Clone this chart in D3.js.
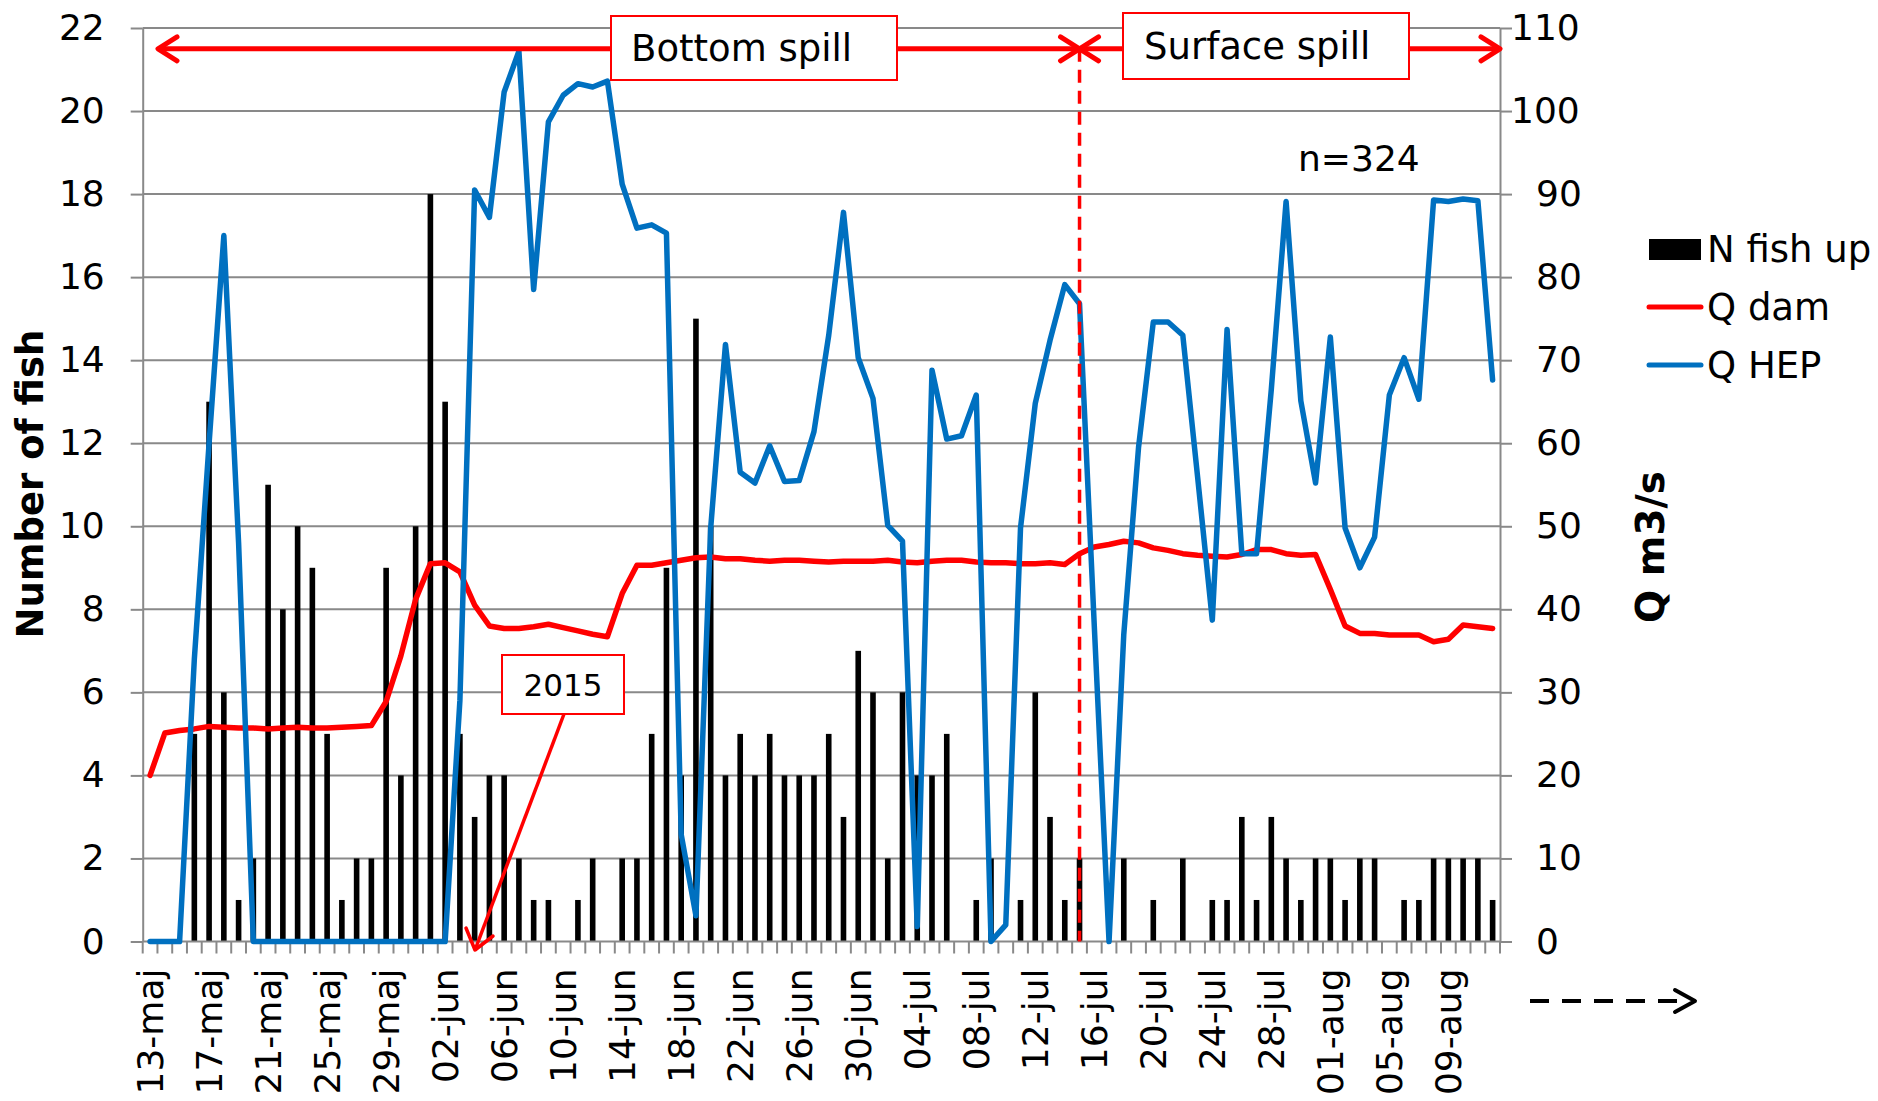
<!DOCTYPE html>
<html>
<head>
<meta charset="utf-8">
<script src="https://cdn.jsdelivr.net/npm/d3@7"></script>
<style>
  body { margin: 0; background: #fff; }
  svg { display: block; }
  text { font-family: "DejaVu Sans", Verdana, sans-serif; fill: #000; }
</style>
</head>
<body>
<svg></svg>
<script>
// categories (one per day, 13 May - 12 Aug)
const dates = [
  '13-maj','14-maj','15-maj','16-maj','17-maj','18-maj','19-maj','20-maj','21-maj','22-maj',
  '23-maj','24-maj','25-maj','26-maj','27-maj','28-maj','29-maj','30-maj','31-maj','01-jun',
  '02-jun','03-jun','04-jun','05-jun','06-jun','07-jun','08-jun','09-jun','10-jun','11-jun',
  '12-jun','13-jun','14-jun','15-jun','16-jun','17-jun','18-jun','19-jun','20-jun','21-jun',
  '22-jun','23-jun','24-jun','25-jun','26-jun','27-jun','28-jun','29-jun','30-jun','01-jul',
  '02-jul','03-jul','04-jul','05-jul','06-jul','07-jul','08-jul','09-jul','10-jul','11-jul',
  '12-jul','13-jul','14-jul','15-jul','16-jul','17-jul','18-jul','19-jul','20-jul','21-jul',
  '22-jul','23-jul','24-jul','25-jul','26-jul','27-jul','28-jul','29-jul','30-jul','31-jul',
  '01-aug','02-aug','03-aug','04-aug','05-aug','06-aug','07-aug','08-aug','09-aug','10-aug',
  '11-aug','12-aug'
];

const labelDates = [
  '13-maj','17-maj','21-maj','25-maj','29-maj','02-jun','06-jun','10-jun','14-jun','18-jun',
  '22-jun','26-jun','30-jun','04-jul','08-jul','12-jul','16-jul','20-jul','24-jul','28-jul',
  '01-aug','05-aug','09-aug'
];

// N fish up (left axis)
const fishUp = [
  0, 0, 0, 5, 13, 6, 1, 2, 11, 8,
  10, 9, 5, 1, 2, 2, 9, 4, 10, 18,
  13, 5, 3, 4, 4, 2, 1, 1, 0, 1,
  2, 0, 2, 2, 5, 9, 4, 15, 10, 4,
  5, 4, 5, 4, 4, 4, 5, 3, 7, 6,
  2, 6, 4, 4, 5, 0, 1, 2, 0, 1,
  6, 3, 1, 2, 0, 0, 2, 0, 1, 0,
  2, 0, 1, 1, 3, 1, 3, 2, 1, 2,
  2, 1, 2, 2, 0, 1, 1, 2, 2, 2,
  2, 1
];

// Q dam, m3/s (right axis)
const qDam = [
  20.0, 25.1, 25.4, 25.6, 25.9, 25.8, 25.7, 25.7, 25.6, 25.7,
  25.8, 25.7, 25.7, 25.8, 25.9, 26.0, 28.9, 34.4, 41.2, 45.5,
  45.6, 44.5, 40.5, 38.0, 37.7, 37.7, 37.9, 38.2, 37.8, 37.4,
  37.0, 36.7, 41.9, 45.3, 45.3, 45.6, 45.9, 46.2, 46.3, 46.1,
  46.1, 45.9, 45.8, 45.9, 45.9, 45.8, 45.7, 45.8, 45.8, 45.8,
  45.9, 45.7, 45.6, 45.8, 45.9, 45.9, 45.7, 45.6, 45.6, 45.5,
  45.5, 45.6, 45.4, 46.7, 47.5, 47.8, 48.2, 48.0, 47.4, 47.1,
  46.7, 46.5, 46.4, 46.3, 46.6, 47.2, 47.2, 46.7, 46.5, 46.6,
  42.4, 38.0, 37.1, 37.1, 36.9, 36.9, 36.9, 36.1, 36.4, 38.1,
  37.9, 37.7
];

// Q HEP, m3/s (right axis)
const qHep = [
  0, 0, 0, 34, 60, 85, 48, 0, 0, 0,
  0, 0, 0, 0, 0, 0, 0, 0, 0, 0,
  0, 29, 90.5, 87.2, 102.3, 107.2, 78.5, 98.7, 101.9, 103.3,
  102.9, 103.6, 91.2, 85.9, 86.3, 85.3, 12.9, 3.1, 49.8, 71.9,
  56.5, 55.2, 59.7, 55.4, 55.5, 61.4, 73, 87.8, 70.3, 65.4,
  50.1, 48.2, 1.8, 68.8, 60.5, 60.9, 65.8, 0, 2.0, 49.8,
  64.8, 72.4, 79.1, 76.8, 38, 0, 37, 59.5, 74.6, 74.6,
  73, 56, 38.7, 73.7, 46.7, 46.7, 66.5, 89.1, 65.1, 55.2,
  72.8, 49.8, 45, 48.7, 65.8, 70.3, 65.3, 89.3, 89.1, 89.4,
  89.2, 67.6
];

const fishTicks = [0, 2, 4, 6, 8, 10, 12, 14, 16, 18, 20, 22];
const qTicks = [0, 10, 20, 30, 40, 50, 60, 70, 80, 90, 100, 110];

const svgWidth = 1878;
const svgHeight = 1101;
const plotLeft = 142.7;
const plotRight = 1500;
const plotTop = 28;
const plotBottom = 941.5;

const gray = '#898989';
const red = '#ff0000';
const blue = '#0070c0';

const svg = d3.select('svg')
    .attr('width', svgWidth)
    .attr('height', svgHeight);

const x = d3.scaleBand()
    .domain(dates)
    .range([plotLeft, plotRight])
    .padding(0);

const yFish = d3.scaleLinear()
    .domain([0, 22])
    .range([plotBottom, plotTop]);

const yQ = d3.scaleLinear()
    .domain([0, 110])
    .range([plotBottom, plotTop]);

const bw = x.bandwidth();
const cx = (d) => x(d) + bw / 2;

// gridlines
svg.append('g')
    .selectAll('line')
    .data(fishTicks.slice(1))
    .enter()
    .append('line')
    .attr('x1', plotLeft)
    .attr('x2', plotRight)
    .attr('y1', (d) => yFish(d))
    .attr('y2', (d) => yFish(d))
    .attr('stroke', gray)
    .attr('stroke-width', 2);

// left axis
const leftAxis = svg.append('g')
    .attr('transform', `translate(${plotLeft},0)`)
    .call(d3.axisLeft(yFish).tickValues(fishTicks).tickSize(12).tickSizeOuter(0).tickPadding(26));

// right axis
const rightAxis = svg.append('g')
    .attr('transform', `translate(${plotRight},0)`)
    .call(d3.axisRight(yQ).tickValues(qTicks).tickSize(12).tickSizeOuter(0).tickPadding(24));

[leftAxis, rightAxis].forEach((a) => {
  a.select('.domain').attr('stroke', gray).attr('stroke-width', 2);
  a.selectAll('.tick line').attr('stroke', gray).attr('stroke-width', 2);
  a.selectAll('.tick text').attr('font-size', 36).attr('font-family', '"DejaVu Sans", Verdana, sans-serif');
});

// three-digit labels on the right sit further left, as in the original
rightAxis.selectAll('.tick text')
    .filter((d) => d >= 100)
    .attr('x', 11);

// bars
svg.append('g')
    .selectAll('rect')
    .data(dates)
    .enter()
    .append('rect')
    .attr('x', (d) => cx(d) - bw * 0.19)
    .attr('width', bw * 0.38)
    .attr('y', (d, i) => yFish(fishUp[i]))
    .attr('height', (d, i) => plotBottom - yFish(fishUp[i]))
    .attr('fill', '#000');

// bottom axis line, category ticks and labels
const xAxis = svg.append('g')
    .attr('transform', `translate(0,${plotBottom})`)
    .call(d3.axisBottom(x).tickValues(labelDates).tickSize(0));

xAxis.select('.domain').remove();
xAxis.selectAll('.tick text')
    .attr('font-size', 36)
    .attr('font-family', '"DejaVu Sans", Verdana, sans-serif')
    .attr('transform', 'rotate(-90)')
    .attr('text-anchor', 'end')
    .attr('x', -27)
    .attr('y', 0)
    .attr('dy', '0.35em');

svg.append('g')
    .selectAll('line')
    .data(dates.map((d) => x(d)).concat([plotRight]))
    .enter()
    .append('line')
    .attr('x1', (d) => d)
    .attr('x2', (d) => d)
    .attr('y1', plotBottom)
    .attr('y2', plotBottom + 12)
    .attr('stroke', gray)
    .attr('stroke-width', 2);

svg.append('line')
    .attr('x1', plotLeft)
    .attr('x2', plotRight)
    .attr('y1', plotBottom)
    .attr('y2', plotBottom)
    .attr('stroke', gray)
    .attr('stroke-width', 2);

// lines
const damLine = d3.line()
    .x((d) => cx(d))
    .y((d, i) => yQ(qDam[i]));

const hepLine = d3.line()
    .x((d) => cx(d))
    .y((d, i) => yQ(qHep[i]));

svg.append('path')
    .datum(dates)
    .attr('d', damLine)
    .attr('fill', 'none')
    .attr('stroke', red)
    .attr('stroke-width', 5.5)
    .attr('stroke-linejoin', 'round')
    .attr('stroke-linecap', 'round');

svg.append('path')
    .datum(dates)
    .attr('d', hepLine)
    .attr('fill', 'none')
    .attr('stroke', blue)
    .attr('stroke-width', 5.5)
    .attr('stroke-linejoin', 'round')
    .attr('stroke-linecap', 'round');

// annotations
const arrowY = yFish(21.5);
const splitX = cx('15-jul');

function chevron(g, tipX, tipY, dir, len, half, color, sw) {
  g.append('path')
      .attr('d', `M${tipX + dir * len},${tipY - half} L${tipX},${tipY} L${tipX + dir * len},${tipY + half}`)
      .attr('fill', 'none')
      .attr('stroke', color)
      .attr('stroke-width', sw)
      .attr('stroke-linecap', 'round')
      .attr('stroke-linejoin', 'round');
}

const ann = svg.append('g');

ann.append('line')
    .attr('x1', splitX)
    .attr('x2', splitX)
    .attr('y1', arrowY)
    .attr('y2', plotBottom)
    .attr('stroke', red)
    .attr('stroke-width', 3.5)
    .attr('stroke-dasharray', '13,8');

ann.append('line')
    .attr('x1', 158)
    .attr('x2', splitX)
    .attr('y1', arrowY)
    .attr('y2', arrowY)
    .attr('stroke', red)
    .attr('stroke-width', 5);
chevron(ann, 158, arrowY, 1, 19, 12, red, 5);
chevron(ann, splitX, arrowY, -1, 19, 12, red, 5);

ann.append('line')
    .attr('x1', splitX)
    .attr('x2', plotRight)
    .attr('y1', arrowY)
    .attr('y2', arrowY)
    .attr('stroke', red)
    .attr('stroke-width', 5);
chevron(ann, splitX, arrowY, 1, 19, 12, red, 5);
chevron(ann, plotRight, arrowY, -1, 19, 12, red, 5);

function labelBox(x0, y0, w, h, label, size, pad) {
  ann.append('rect')
      .attr('x', x0)
      .attr('y', y0)
      .attr('width', w)
      .attr('height', h)
      .attr('fill', '#fff')
      .attr('stroke', red)
      .attr('stroke-width', 2);
  ann.append('text')
      .attr('x', pad == null ? x0 + w / 2 : x0 + pad)
      .attr('y', y0 + h / 2)
      .attr('dy', '0.36em')
      .attr('text-anchor', pad == null ? 'middle' : 'start')
      .attr('font-size', size)
      .text(label);
}

labelBox(611, 16, 286, 64, 'Bottom spill', 37, 20);
labelBox(1123, 13, 286, 66, 'Surface spill', 37, 21);

// 2015 callout
ann.append('line')
    .attr('x1', 564)
    .attr('y1', 714)
    .attr('x2', 475)
    .attr('y2', 950)
    .attr('stroke', red)
    .attr('stroke-width', 3.5);
ann.append('path')
    .attr('d', 'M466,928 L475,950 L493,936')
    .attr('fill', 'none')
    .attr('stroke', red)
    .attr('stroke-width', 3.5)
    .attr('stroke-linecap', 'round')
    .attr('stroke-linejoin', 'round');
labelBox(502, 655, 122, 59, '2015', 31);

ann.append('text')
    .attr('x', 1298)
    .attr('y', 171)
    .attr('font-size', 36)
    .text('n=324');

// continuation arrow below right axis
ann.append('line')
    .attr('x1', 1530)
    .attr('x2', 1690)
    .attr('y1', 1001)
    .attr('y2', 1001)
    .attr('stroke', '#000')
    .attr('stroke-width', 4)
    .attr('stroke-dasharray', '19,13');
chevron(ann, 1695, 1001, -1, 20, 11, '#000', 4);

// axis titles
svg.append('text')
    .attr('transform', 'translate(43,484) rotate(-90)')
    .attr('text-anchor', 'middle')
    .attr('font-size', 37)
    .attr('font-weight', 'bold')
    .text('Number of fish');

svg.append('text')
    .attr('transform', 'translate(1664,547) rotate(-90)')
    .attr('text-anchor', 'middle')
    .attr('font-size', 39)
    .attr('font-weight', 'bold')
    .text('Q m3/s');

// legend
const legend = svg.append('g');
legend.append('rect')
    .attr('x', 1649)
    .attr('y', 239)
    .attr('width', 52)
    .attr('height', 21)
    .attr('fill', '#000');
legend.append('text')
    .attr('x', 1707)
    .attr('y', 262)
    .attr('font-size', 37)
    .text('N fish up');

[['Q dam', red, 307], ['Q HEP', blue, 365]].forEach(([name, color, ly]) => {
  legend.append('line')
      .attr('x1', 1649)
      .attr('x2', 1701)
      .attr('y1', ly)
      .attr('y2', ly)
      .attr('stroke', color)
      .attr('stroke-width', 5)
      .attr('stroke-linecap', 'round');
  legend.append('text')
      .attr('x', 1707)
      .attr('y', ly + 12.5)
      .attr('font-size', 37)
      .text(name);
});
</script>
</body>
</html>
